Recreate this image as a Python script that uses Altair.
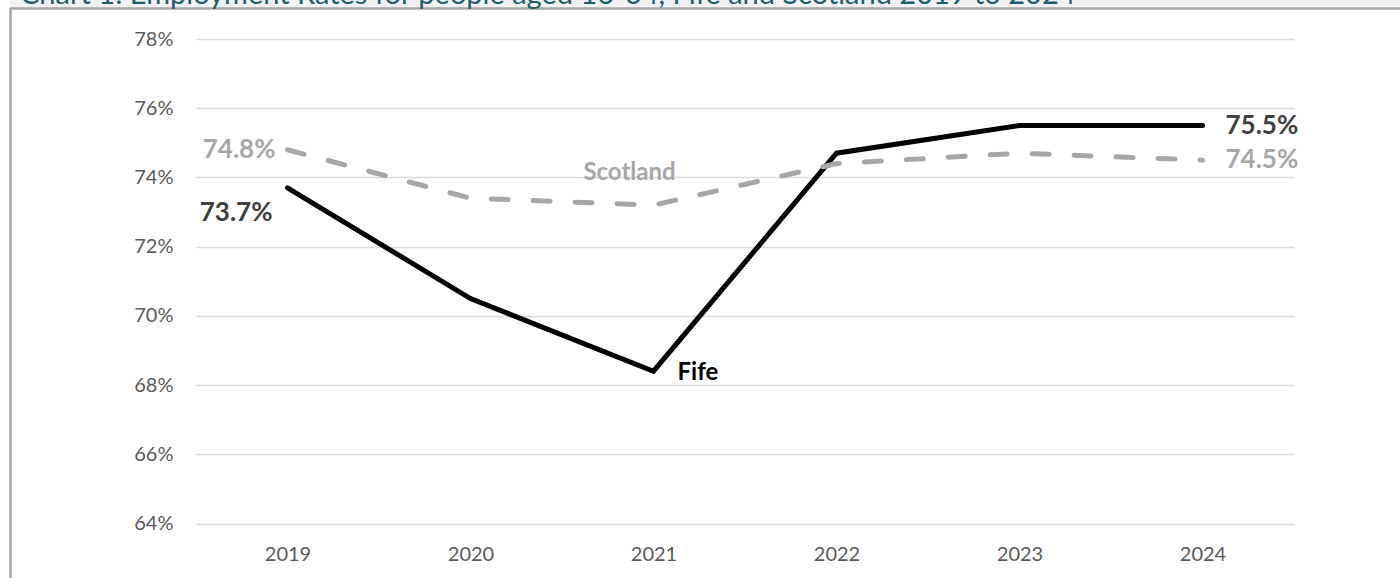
import altair as alt
import pandas as pd

years = ["2019", "2020", "2021", "2022", "2023", "2024"]
fife = [73.7, 70.5, 68.4, 74.7, 75.5, 75.5]
scotland = [74.8, 73.4, 73.2, 74.4, 74.7, 74.5]
y_ticks = [64, 66, 68, 70, 72, 74, 76, 78]
title_text = "Chart 1: Employment Rates for people aged 16-64, Fife and Scotland 2019 to 2024"

FONT = "Lato"
W, H = 1098, 484.5
PL, PT = 196, 39

df = pd.DataFrame({"year": years, "Fife": fife, "Scotland": scotland})

x_enc = alt.X("year:O", scale=alt.Scale(type="point", padding=0.5),
              axis=alt.Axis(title=None, labelAngle=0, domain=False, ticks=False,
                            labelPadding=21, labelFontSize=20, labelColor="#595959",
                            labelFont=FONT, grid=False))
y_scale = alt.Scale(domain=[64, 78], nice=False, zero=False)
y_axis = alt.Axis(title=None, values=y_ticks, labelExpr="datum.value + '%'",
                  domain=False, ticks=False, labelPadding=23, labelFontSize=20,
                  labelColor="#595959", labelFont=FONT, grid=True,
                  gridColor="#D9D9D9", gridWidth=1.5)

base = alt.Chart(df)

one = alt.Chart(pd.DataFrame({"k": [0]}))
band = one.mark_rect(color="#F2F2F2").encode(
    x=alt.value(10 - PL), x2=alt.value(1400 - PL), y=alt.value(0 - PT), y2=alt.value(8 - PT))
top_line = one.mark_rule(color="#A6A6A6", strokeWidth=2.5).encode(
    x=alt.value(10 - PL), x2=alt.value(1400 - PL), y=alt.value(8.5 - PT))
left_line = one.mark_rule(color="#A6A6A6", strokeWidth=2.5).encode(
    x=alt.value(10.5 - PL), y=alt.value(8 - PT), y2=alt.value(578 - PT))
title = one.mark_text(text=title_text, align="left", baseline="alphabetic",
                      font=FONT, fontSize=29, color="#1B5E6E").encode(
    x=alt.value(20 - PL), y=alt.value(4 - PT))

fife_line = base.mark_line(color="#000000", strokeWidth=5, strokeCap="round",
                           strokeJoin="miter").encode(
    x=x_enc, y=alt.Y("Fife:Q", scale=y_scale, axis=y_axis))
scot_line = base.mark_line(color="#A6A6A6", strokeWidth=5, strokeCap="round",
                           strokeDash=[17, 25]).encode(
    x=x_enc, y=alt.Y("Scotland:Q", scale=y_scale))

lab = base.transform_calculate(
    fl=alt.expr.format(alt.datum.Fife, ".1f") + "%",
    sl=alt.expr.format(alt.datum.Scotland, ".1f") + "%")

def txt(field, val_field, yr, color, align, dx, dy, size=26, text_value=None):
    m = lab.transform_filter(alt.datum.year == yr).mark_text(
        align=align, baseline="middle", dx=dx, dy=dy, font=FONT,
        fontWeight="bold", fontSize=size, color=color)
    enc = dict(x=x_enc, y=alt.Y(f"{val_field}:Q", scale=y_scale))
    if text_value is not None:
        enc["text"] = alt.value(text_value)
    else:
        enc["text"] = alt.Text(f"{field}:N")
    return m.encode(**enc)

labels = [
    txt("sl", "Scotland", "2019", "#A6A6A6", "right", -12, 0),
    txt("fl", "Fife", "2019", "#404040", "right", -15, 25),
    txt("fl", "Fife", "2024", "#404040", "left", 23, 0),
    txt("sl", "Scotland", "2024", "#A6A6A6", "left", 23, 0),
    txt(None, "Scotland", "2021", "#A6A6A6", "center", -24, -32, size=24, text_value="Scotland"),
    txt(None, "Fife", "2021", "#000000", "left", 24, 2, size=24, text_value="Fife"),
]

chart = alt.layer(band, top_line, left_line, title, fife_line, scot_line, *labels).properties(
    width=W, height=H,
    padding={"left": PL, "top": PT, "right": 1400 - PL - W, "bottom": 578 - PT - H},
    autosize=alt.AutoSizeParams(type="none"),
    background="#FFFFFF",
).configure_view(stroke=None)

chart.save("out.html", embed_options={"renderer": "svg", "actions": False})
